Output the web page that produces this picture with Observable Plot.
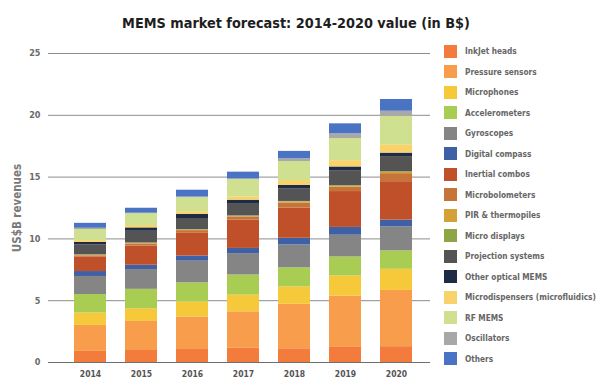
<!DOCTYPE html>
<html>
<head>
<meta charset="utf-8">
<script src="https://cdn.jsdelivr.net/npm/d3@7"></script>
<script src="https://cdn.jsdelivr.net/npm/@observablehq/plot@0.6"></script>
<style>
  html, body { margin: 0; padding: 0; background: #fff; }
  #wrap { position: relative; width: 606px; height: 391px; overflow: hidden; font-family: "DejaVu Sans Condensed", "DejaVu Sans", sans-serif; }
  #title { position: absolute; left: 0; width: 592px; top: 15px; text-align: center; font-weight: bold; font-size: 15px; color: #1e1e1e; white-space: nowrap; }
  #chart { position: absolute; left: 0; top: 0; }
  #legend { position: absolute; left: 444px; top: 41px; }
  .item { display: flex; align-items: center; height: 20.5px; }
  .sw { width: 13px; height: 13px; margin-right: 8px; flex: none; }
  .lab { font-size: 9.5px; font-weight: bold; color: #666; white-space: nowrap; }
</style>
</head>
<body>
<div id="wrap">
  <div id="chart"></div>
  <div id="title">MEMS market forecast: 2014-2020 value (in B$)</div>
  <div id="legend"></div>
</div>
<script>
const years = ["2014", "2015", "2016", "2017", "2018", "2019", "2020"];
const seriesNames = [
  "InkJet heads", "Pressure sensors", "Microphones", "Accelerometers", "Gyroscopes",
  "Digital compass", "Inertial combos", "Microbolometers", "PIR & thermopiles", "Micro displays",
  "Projection systems", "Other optical MEMS", "Microdispensers (microfluidics)", "RF MEMS",
  "Oscillators", "Others"
];
const colors = [
  "#f37b3c", "#f79d4c", "#f5c93a", "#a9cd52", "#858585",
  "#4060a6", "#c0502a", "#c6743a", "#d3a236", "#8ea545",
  "#545454", "#1e2b45", "#f8d36c", "#cfe191", "#a8a8a8", "#4b73c4"
];
const yTicks = [0, 5, 10, 15, 20, 25];

const inkjet          = [0.90, 0.97, 1.05, 1.15, 1.11, 1.22, 1.28];
const pressure        = [2.10, 2.35, 2.63, 2.95, 3.60, 4.15, 4.55];
const microphones     = [1.00, 1.03, 1.22, 1.35, 1.41, 1.63, 1.71];
const accelerometers  = [1.50, 1.57, 1.54, 1.63, 1.54, 1.54, 1.49];
const gyroscopes      = [1.46, 1.60, 1.76, 1.73, 1.85, 1.76, 1.95];
const compass         = [0.40, 0.35, 0.41, 0.42, 0.54, 0.63, 0.54];
const inertial        = [1.15, 1.55, 1.84, 2.30, 2.44, 2.90, 3.11];
const microbolometers = [0.12, 0.17, 0.22, 0.25, 0.42, 0.36, 0.65];
const pir             = [0.05, 0.05, 0.05, 0.05, 0.08, 0.07, 0.10];
const microdisplays   = [0.03, 0.03, 0.03, 0.03, 0.04, 0.04, 0.06];
const projection      = [0.80, 0.95, 0.90, 1.00, 1.00, 1.22, 1.22];
const otherOptical    = [0.20, 0.27, 0.33, 0.27, 0.29, 0.30, 0.28];
const microdispensers = [0.15, 0.19, 0.22, 0.27, 0.40, 0.51, 0.68];
const rfMems          = [0.90, 0.95, 1.14, 1.40, 1.54, 1.79, 2.30];
const oscillators     = [0.10, 0.05, 0.05, 0.05, 0.22, 0.38, 0.41];
const others          = [0.40, 0.40, 0.55, 0.55, 0.60, 0.81, 0.95];

const seriesValues = [inkjet, pressure, microphones, accelerometers, gyroscopes, compass,
  inertial, microbolometers, pir, microdisplays, projection, otherOptical,
  microdispensers, rfMems, oscillators, others];

const data = [];
seriesNames.forEach((s, i) => years.forEach((yr, j) => data.push({year: yr, series: s, value: seriesValues[i][j]})));

const chart = Plot.plot({
  width: 606,
  height: 391,
  marginTop: 53,
  marginBottom: 29,
  marginLeft: 48,
  marginRight: 176,
  style: {fontFamily: "'DejaVu Sans Condensed', 'DejaVu Sans', sans-serif", background: "transparent"},
  x: {domain: years, range: [72, 414.6], paddingInner: 0.38, paddingOuter: 0, label: null},
  y: {domain: [0, 25], ticks: yTicks, label: null},
  color: {domain: seriesNames, range: colors},
  marks: [
    Plot.ruleY(yTicks.filter(d => d > 0), {stroke: "#8c8c8c", strokeWidth: 1}),
    Plot.barY(data, {x: "year", y: "value", fill: "series", order: seriesNames}),
    Plot.ruleY([0], {stroke: "#6e6e6e", strokeWidth: 1.2}),
    Plot.axisY({ticks: yTicks, tickSize: 0, tickPadding: 8, fontSize: 9, fontWeight: "bold", fill: "#6a6a6a",
      label: "US$B revenues", labelAnchor: "center", labelArrow: "none", labelOffset: 36}),
    Plot.axisX({tickSize: 0, tickPadding: 8, fontSize: 8.5, fontWeight: "bold", fill: "#555", label: null})
  ]
});
document.getElementById("chart").appendChild(chart);
chart.querySelectorAll("[aria-label='y-axis label'] text").forEach(t => {
  t.setAttribute("font-size", "11.5");
  t.setAttribute("font-weight", "bold");
  t.setAttribute("fill", "#7a7a7a");
});

const legend = document.getElementById("legend");
const labs = [];
seriesNames.forEach((s, i) => {
  const it = document.createElement("div");
  it.className = "item";
  const sw = document.createElement("div");
  sw.className = "sw";
  sw.style.background = colors[i];
  const lab = document.createElement("div");
  lab.className = "lab";
  lab.textContent = s;
  it.appendChild(sw); it.appendChild(lab);
  legend.appendChild(it);
  labs.push(lab);
});

function fit(el, target, base) {
  el.style.fontSize = base + "px";
  const w = el.getBoundingClientRect().width;
  return base * target / w;
}
const longest = labs[12];
longest.style.display = "inline-block";
const fs = fit(longest, 131, 9.5);
labs.forEach(l => l.style.fontSize = fs + "px");

const title = document.getElementById("title");
const probe = document.createElement("span");
probe.textContent = title.textContent;
title.textContent = "";
title.appendChild(probe);
const tfs = fit(probe, 348, 15);
title.style.fontSize = tfs + "px";
probe.style.fontSize = tfs + "px";
</script>
</body>
</html>
